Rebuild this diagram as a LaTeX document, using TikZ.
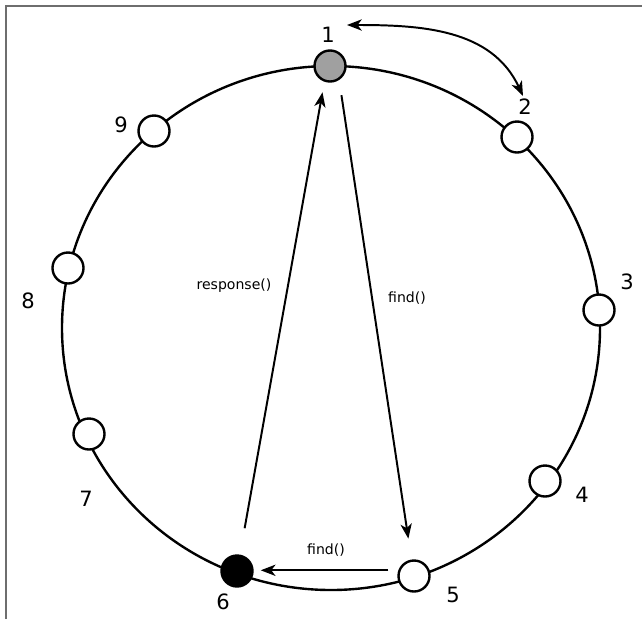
\documentclass[tikz,border=0pt]{standalone}
\usepackage{fontspec}
\setmainfont{DejaVu Sans}
\usetikzlibrary{arrows.meta}
\definecolor{peergray}{RGB}{160,160,160}
\definecolor{framegray}{RGB}{110,110,110}

\begin{document}
\begin{tikzpicture}[x=0.025cm,y=-0.025cm,
		>={Stealth[length=10.5pt,width=8pt,inset=3pt]},
		peer/.style={circle,draw,line width=1.7pt,fill=white,minimum size=0.775cm,inner sep=0pt},
		num/.style={font=\fontsize{15}{17}\selectfont},
		msg/.style={font=\fontsize{10}{12}\selectfont},
		arr/.style={->,line width=1.4pt}]
		\useasboundingbox (0,0) rectangle (642,619);
		% frame
		\draw[framegray,line width=1.2pt] (6,619) -- (6,6) -- (642,6);
		% the ring
		\draw[line width=1.7pt] (331,328) ellipse [x radius=269, y radius=262];
		% peers on the ring
		\node[peer,fill=peergray] (n1) at (330,66)  {};
		\node[peer]               (n2) at (517,137) {};
		\node[peer]               (n3) at (599,310) {};
		\node[peer]               (n4) at (545,481) {};
		\node[peer]               (n5) at (414,576) {};
		\node[peer,fill=black]    (n6) at (237,571) {};
		\node[peer]               (n7) at (89,434)  {};
		\node[peer]               (n8) at (68,268)  {};
		\node[peer]               (n9) at (154,131) {};
		% peer numbers
		\node[num] (l1) at (328,35)  {1};
		\node[num] (l2) at (525,107) {2};
		\node[num] (l3) at (627,282) {3};
		\node[num] (l4) at (582,495) {4};
		\node[num] (l5) at (453,595) {5};
		\node[num] (l6) at (223,602) {6};
		\node[num] (l7) at (86,499)  {7};
		\node[num] (l8) at (28,301)  {8};
		\node[num] (l9) at (121,125) {9};
		% neighbours 1 <-> 2
		\coordinate (c1) at (347,25);
		\coordinate (c2) at (523,96);
		\draw[arr,<->] (c1) to[out=0,in=115] (c2);
		% lookup and answer
		\draw[arr,shorten <=21pt,shorten >=15pt] ([xshift=5pt]n1.center) -- (n5);
		\draw[arr,shorten <=19pt,shorten >=19pt] (n6) -- ([xshift=-2pt]n1.center);
		\draw[arr,shorten <=7pt,shorten >=5pt] (n5.160) -- (n5.160 -| n6.east);
		% messages
		\node[msg] (m1) at (234,286) {response()};
		\node[msg] (m2) at (407,298) {find()};
		\node[msg] (m3) at (326,550) {find()};
	\end{tikzpicture}
\end{document}
